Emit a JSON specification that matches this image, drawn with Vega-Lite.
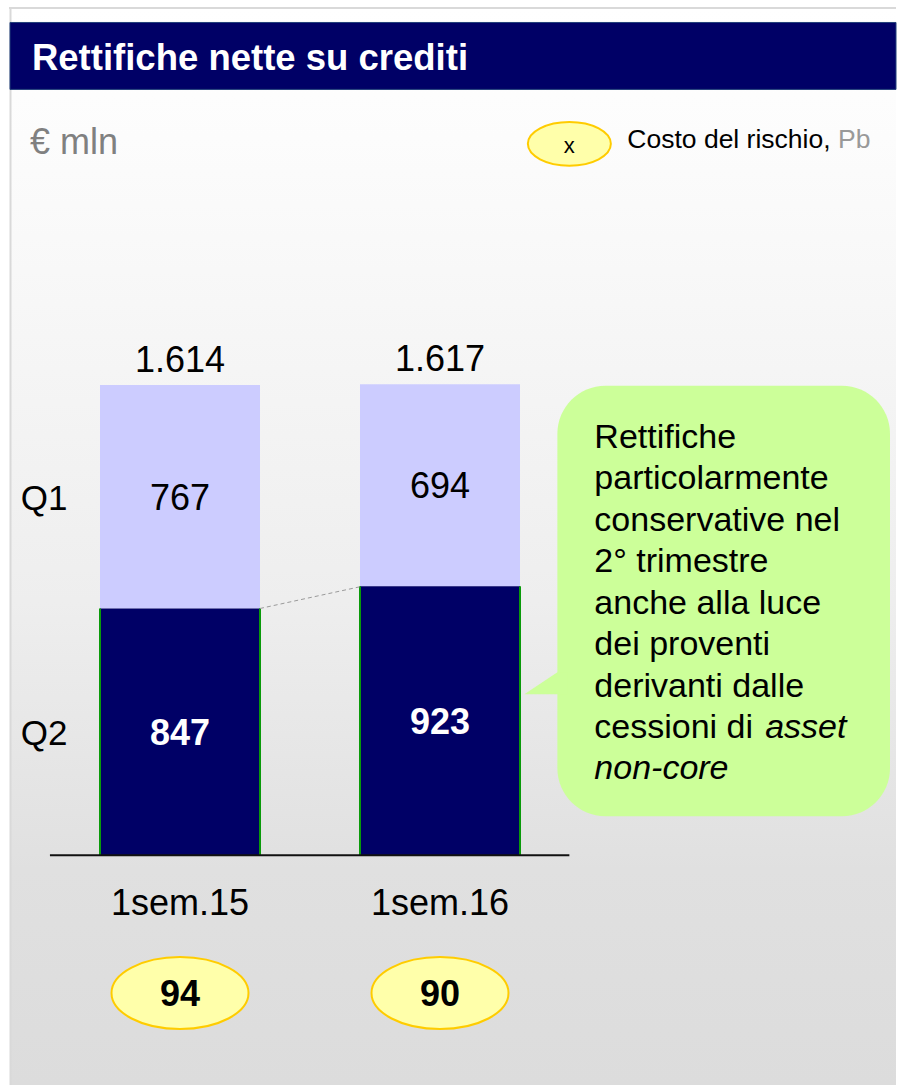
{
  "$schema": "https://vega.github.io/schema/vega-lite/v6.json",
  "width": 897,
  "height": 1086,
  "autosize": {"type": "fit", "contains": "padding"},
  "padding": 0,
  "background": "#ffffff",
  "config": {
    "view": {"stroke": null},
    "font": "Liberation Sans",
    "text": {"font": "Liberation Sans"},
    "axis": {"disable": true},
    "legend": {"disable": true},
    "locale": {"number": {"decimal": ",", "thousands": ".", "grouping": [3], "currency": ["", " €"]}}
  },
  "datasets": {
    "rettifiche": [
      {"period": "1sem.15", "quarter": "Q1", "value": 767},
      {"period": "1sem.15", "quarter": "Q2", "value": 847},
      {"period": "1sem.16", "quarter": "Q1", "value": 694},
      {"period": "1sem.16", "quarter": "Q2", "value": 923}
    ],
    "costo": [
      {"period": "1sem.15", "costo": 94},
      {"period": "1sem.16", "costo": 90}
    ]
  },
  "layer": [
    {
      "data": {"values": [{}]},
      "layer": [
        {
          "mark": {"type": "rect", "fill": {"gradient": "linear", "x1": 0, "y1": 0, "x2": 0, "y2": 1, "stops": [{"offset": 0, "color": "#ffffff"}, {"offset": 0.12, "color": "#fcfcfc"}, {"offset": 0.55, "color": "#eeeeee"}, {"offset": 0.8, "color": "#e0e0e0"}, {"offset": 1, "color": "#dcdcdc"}]}},
          "encoding": {
            "x": {"datum": 10, "type": "quantitative", "scale": {"domain": [0, 897], "nice": false, "zero": false}, "axis": null},
            "x2": {"datum": 897},
            "y": {"datum": 9, "type": "quantitative", "scale": {"domain": [0, 1086], "reverse": true, "nice": false, "zero": false}, "axis": null},
            "y2": {"datum": 1086}
          }
        },
        {
          "mark": {"type": "rule", "color": "#d9d9d9", "strokeWidth": 2},
          "encoding": {"x": {"datum": 9, "type": "quantitative"}, "x2": {"datum": 897}, "y": {"datum": 8, "type": "quantitative"}}
        },
        {
          "mark": {"type": "rule", "color": "#d9d9d9", "strokeWidth": 2},
          "encoding": {"x": {"datum": 10.5, "type": "quantitative"}, "y": {"datum": 8, "type": "quantitative"}, "y2": {"datum": 1086}}
        },
        {
          "mark": {"type": "rect", "fill": "#000066", "stroke": "#22407a", "strokeWidth": 1},
          "encoding": {"x": {"datum": 10, "type": "quantitative"}, "x2": {"datum": 897}, "y": {"datum": 22.5, "type": "quantitative"}, "y2": {"datum": 89.5}}
        },
        {
          "mark": {"type": "text", "text": "Rettifiche nette su crediti", "color": "#ffffff", "fontWeight": "bold", "fontSize": 36.5, "align": "left", "baseline": "alphabetic"},
          "encoding": {"x": {"datum": 32, "type": "quantitative"}, "y": {"datum": 70, "type": "quantitative"}}
        },
        {
          "mark": {"type": "text", "text": "€ mln", "color": "#808080", "fontSize": 36, "align": "left", "baseline": "alphabetic"},
          "encoding": {"x": {"datum": 30, "type": "quantitative"}, "y": {"datum": 154, "type": "quantitative"}}
        },
        {
          "mark": {"type": "point", "shape": "M -1 0 C -1 -0.29 -0.552 -0.525 0 -0.525 C 0.552 -0.525 1 -0.29 1 0 C 1 0.29 0.552 0.525 0 0.525 C -0.552 0.525 -1 0.29 -1 0 Z", "size": 6889, "filled": true, "fill": "#ffffaa", "stroke": "#ffcc00", "strokeWidth": 2, "opacity": 1},
          "encoding": {"x": {"datum": 570, "type": "quantitative"}, "y": {"datum": 144, "type": "quantitative"}}
        },
        {
          "mark": {"type": "text", "text": "x", "color": "#000000", "fontSize": 22, "align": "center", "baseline": "alphabetic"},
          "encoding": {"x": {"datum": 570, "type": "quantitative"}, "y": {"datum": 153, "type": "quantitative"}}
        },
        {
          "mark": {"type": "text", "text": "Costo del rischio,", "color": "#000000", "fontSize": 26.5, "align": "left", "baseline": "alphabetic"},
          "encoding": {"x": {"datum": 628, "type": "quantitative"}, "y": {"datum": 148, "type": "quantitative"}}
        },
        {
          "mark": {"type": "text", "text": "Pb", "color": "#999999", "fontSize": 26.5, "align": "left", "baseline": "alphabetic"},
          "encoding": {"x": {"datum": 839, "type": "quantitative"}, "y": {"datum": 148, "type": "quantitative"}}
        },
        {
          "mark": {"type": "rect", "fill": "#ccff99", "cornerRadius": 48},
          "encoding": {"x": {"datum": 558, "type": "quantitative"}, "x2": {"datum": 891}, "y": {"datum": 386, "type": "quantitative"}, "y2": {"datum": 817}}
        },
        {
          "mark": {"type": "point", "shape": "M 0.3 -0.3333 L 0 -0.3333 L -1 0.3333 L 0.3 0.3333 Z", "size": 4356, "filled": true, "fill": "#ccff99", "strokeWidth": 0, "opacity": 1},
          "encoding": {"x": {"datum": 558, "type": "quantitative"}, "y": {"datum": 684, "type": "quantitative"}}
        },
        {
          "mark": {"type": "text", "text": ["Rettifiche", "particolarmente", "conservative nel", "2° trimestre", "anche alla luce", "dei proventi", "derivanti dalle", "cessioni di"], "lineHeight": 41.5, "color": "#000000", "fontSize": 34, "align": "left", "baseline": "alphabetic"},
          "encoding": {"x": {"datum": 595, "type": "quantitative"}, "y": {"datum": 448, "type": "quantitative"}}
        },
        {
          "mark": {"type": "text", "text": "asset", "fontStyle": "italic", "color": "#000000", "fontSize": 34, "align": "left", "baseline": "alphabetic"},
          "encoding": {"x": {"datum": 766, "type": "quantitative"}, "y": {"datum": 738.5, "type": "quantitative"}}
        },
        {
          "mark": {"type": "text", "text": "non-core", "fontStyle": "italic", "color": "#000000", "fontSize": 34, "align": "left", "baseline": "alphabetic"},
          "encoding": {"x": {"datum": 595, "type": "quantitative"}, "y": {"datum": 780, "type": "quantitative"}}
        }
      ]
    },
    {
      "data": {"name": "rettifiche"},
      "layer": [
        {
          "mark": {"type": "bar"},
          "encoding": {
            "x": {"field": "period", "type": "nominal", "scale": {"type": "band", "domain": ["1sem.15", "1sem.16"], "range": [50, 570], "paddingInner": 0.3846, "paddingOuter": 0.1923}, "axis": null},
            "y": {"field": "value", "type": "quantitative", "stack": "zero", "scale": {"domain": [-789, 2936], "nice": false, "zero": false}, "axis": null},
            "color": {"field": "quarter", "type": "nominal", "scale": {"domain": ["Q2", "Q1"], "range": ["#000066", "#ccccff"]}, "legend": null},
            "order": {"field": "quarter", "sort": "descending"}
          }
        },
        {
          "transform": [{"filter": "datum.quarter === 'Q2'"}],
          "mark": {"type": "rule", "color": "#0a9a0a", "strokeWidth": 2},
          "encoding": {"x": {"field": "period", "type": "nominal", "bandPosition": 0}, "y": {"field": "value", "type": "quantitative"}, "y2": {"datum": 0}}
        },
        {
          "transform": [{"filter": "datum.quarter === 'Q2'"}],
          "mark": {"type": "rule", "color": "#0a9a0a", "strokeWidth": 2},
          "encoding": {"x": {"field": "period", "type": "nominal", "bandPosition": 1}, "y": {"field": "value", "type": "quantitative"}, "y2": {"datum": 0}}
        },
        {
          "transform": [
            {"filter": "datum.quarter === 'Q2'"},
            {"window": [{"op": "lead", "field": "value", "as": "nextValue"}, {"op": "lead", "field": "period", "as": "nextPeriod"}], "sort": [{"field": "period", "order": "ascending"}]},
            {"filter": "datum.nextValue != null"}
          ],
          "mark": {"type": "rule", "color": "#9a9a9a", "strokeWidth": 1, "strokeDash": [4, 3], "xOffset": 80, "x2Offset": -78},
          "encoding": {"x": {"field": "period", "type": "nominal", "bandPosition": 0.5}, "x2": {"field": "nextPeriod"}, "y": {"field": "value", "type": "quantitative"}, "y2": {"field": "nextValue"}}
        },
        {
          "transform": [
            {"stack": "value", "groupby": ["period"], "sort": [{"field": "quarter", "order": "descending"}], "as": ["y0", "y1"]},
            {"fold": ["y0", "y1"], "as": ["edge", "pos"]},
            {"aggregate": [{"op": "mean", "field": "pos", "as": "mid"}], "groupby": ["period", "quarter", "value"]}
          ],
          "layer": [
            {
              "transform": [{"filter": "datum.quarter === 'Q1'"}],
              "mark": {"type": "text", "fontSize": 36, "color": "#000000", "baseline": "alphabetic", "dy": 13},
              "encoding": {"x": {"field": "period", "type": "nominal"}, "y": {"field": "mid", "type": "quantitative"}, "text": {"field": "value", "type": "quantitative", "format": "d"}}
            },
            {
              "transform": [{"filter": "datum.quarter === 'Q2'"}],
              "mark": {"type": "text", "fontSize": 36, "fontWeight": "bold", "color": "#ffffff", "baseline": "alphabetic", "dy": 13},
              "encoding": {"x": {"field": "period", "type": "nominal"}, "y": {"field": "mid", "type": "quantitative"}, "text": {"field": "value", "type": "quantitative", "format": "d"}}
            },
            {
              "transform": [{"filter": "datum.period === '1sem.15'"}],
              "mark": {"type": "text", "fontSize": 35, "color": "#000000", "baseline": "alphabetic", "dy": 13, "dx": -56},
              "encoding": {"x": {"field": "period", "type": "nominal", "bandPosition": 0}, "y": {"field": "mid", "type": "quantitative"}, "text": {"field": "quarter", "type": "nominal"}}
            }
          ]
        },
        {
          "transform": [{"aggregate": [{"op": "sum", "field": "value", "as": "total"}], "groupby": ["period"]}],
          "mark": {"type": "text", "fontSize": 36, "color": "#000000", "baseline": "alphabetic", "dy": -13},
          "encoding": {"x": {"field": "period", "type": "nominal"}, "y": {"field": "total", "type": "quantitative"}, "text": {"field": "total", "type": "quantitative", "format": ",d"}}
        },
        {
          "data": {"name": "costo"},
          "mark": {"type": "text", "fontSize": 36, "color": "#000000", "baseline": "alphabetic"},
          "encoding": {"x": {"field": "period", "type": "nominal"}, "y": {"datum": -205.9, "type": "quantitative"}, "text": {"field": "period", "type": "nominal"}}
        },
        {
          "data": {"name": "costo"},
          "mark": {"type": "point", "shape": "M -1 0 C -1 -0.29 -0.552 -0.525 0 -0.525 C 0.552 -0.525 1 -0.29 1 0 C 1 0.29 0.552 0.525 0 0.525 C -0.552 0.525 -1 0.29 -1 0 Z", "size": 18769, "filled": true, "fill": "#ffffaa", "stroke": "#ffcc00", "strokeWidth": 2, "opacity": 1},
          "encoding": {"x": {"field": "period", "type": "nominal"}, "y": {"datum": -473.4, "type": "quantitative"}}
        },
        {
          "data": {"name": "costo"},
          "mark": {"type": "text", "fontSize": 36, "fontWeight": "bold", "color": "#000000", "baseline": "alphabetic", "dy": 13},
          "encoding": {"x": {"field": "period", "type": "nominal"}, "y": {"datum": -473.4, "type": "quantitative"}, "text": {"field": "costo", "type": "quantitative", "format": "d"}}
        }
      ]
    },
    {
      "data": {"values": [{}]},
      "layer": [
        {
          "mark": {"type": "rule", "color": "#111111", "strokeWidth": 2},
          "encoding": {
            "x": {"datum": 50, "type": "quantitative", "scale": {"domain": [0, 897], "nice": false, "zero": false}, "axis": null},
            "x2": {"datum": 570},
            "y": {"datum": 856, "type": "quantitative", "scale": {"domain": [0, 1086], "reverse": true, "nice": false, "zero": false}, "axis": null}
          }
        }
      ]
    }
  ],
  "resolve": {"scale": {"x": "independent", "y": "independent"}}
}
